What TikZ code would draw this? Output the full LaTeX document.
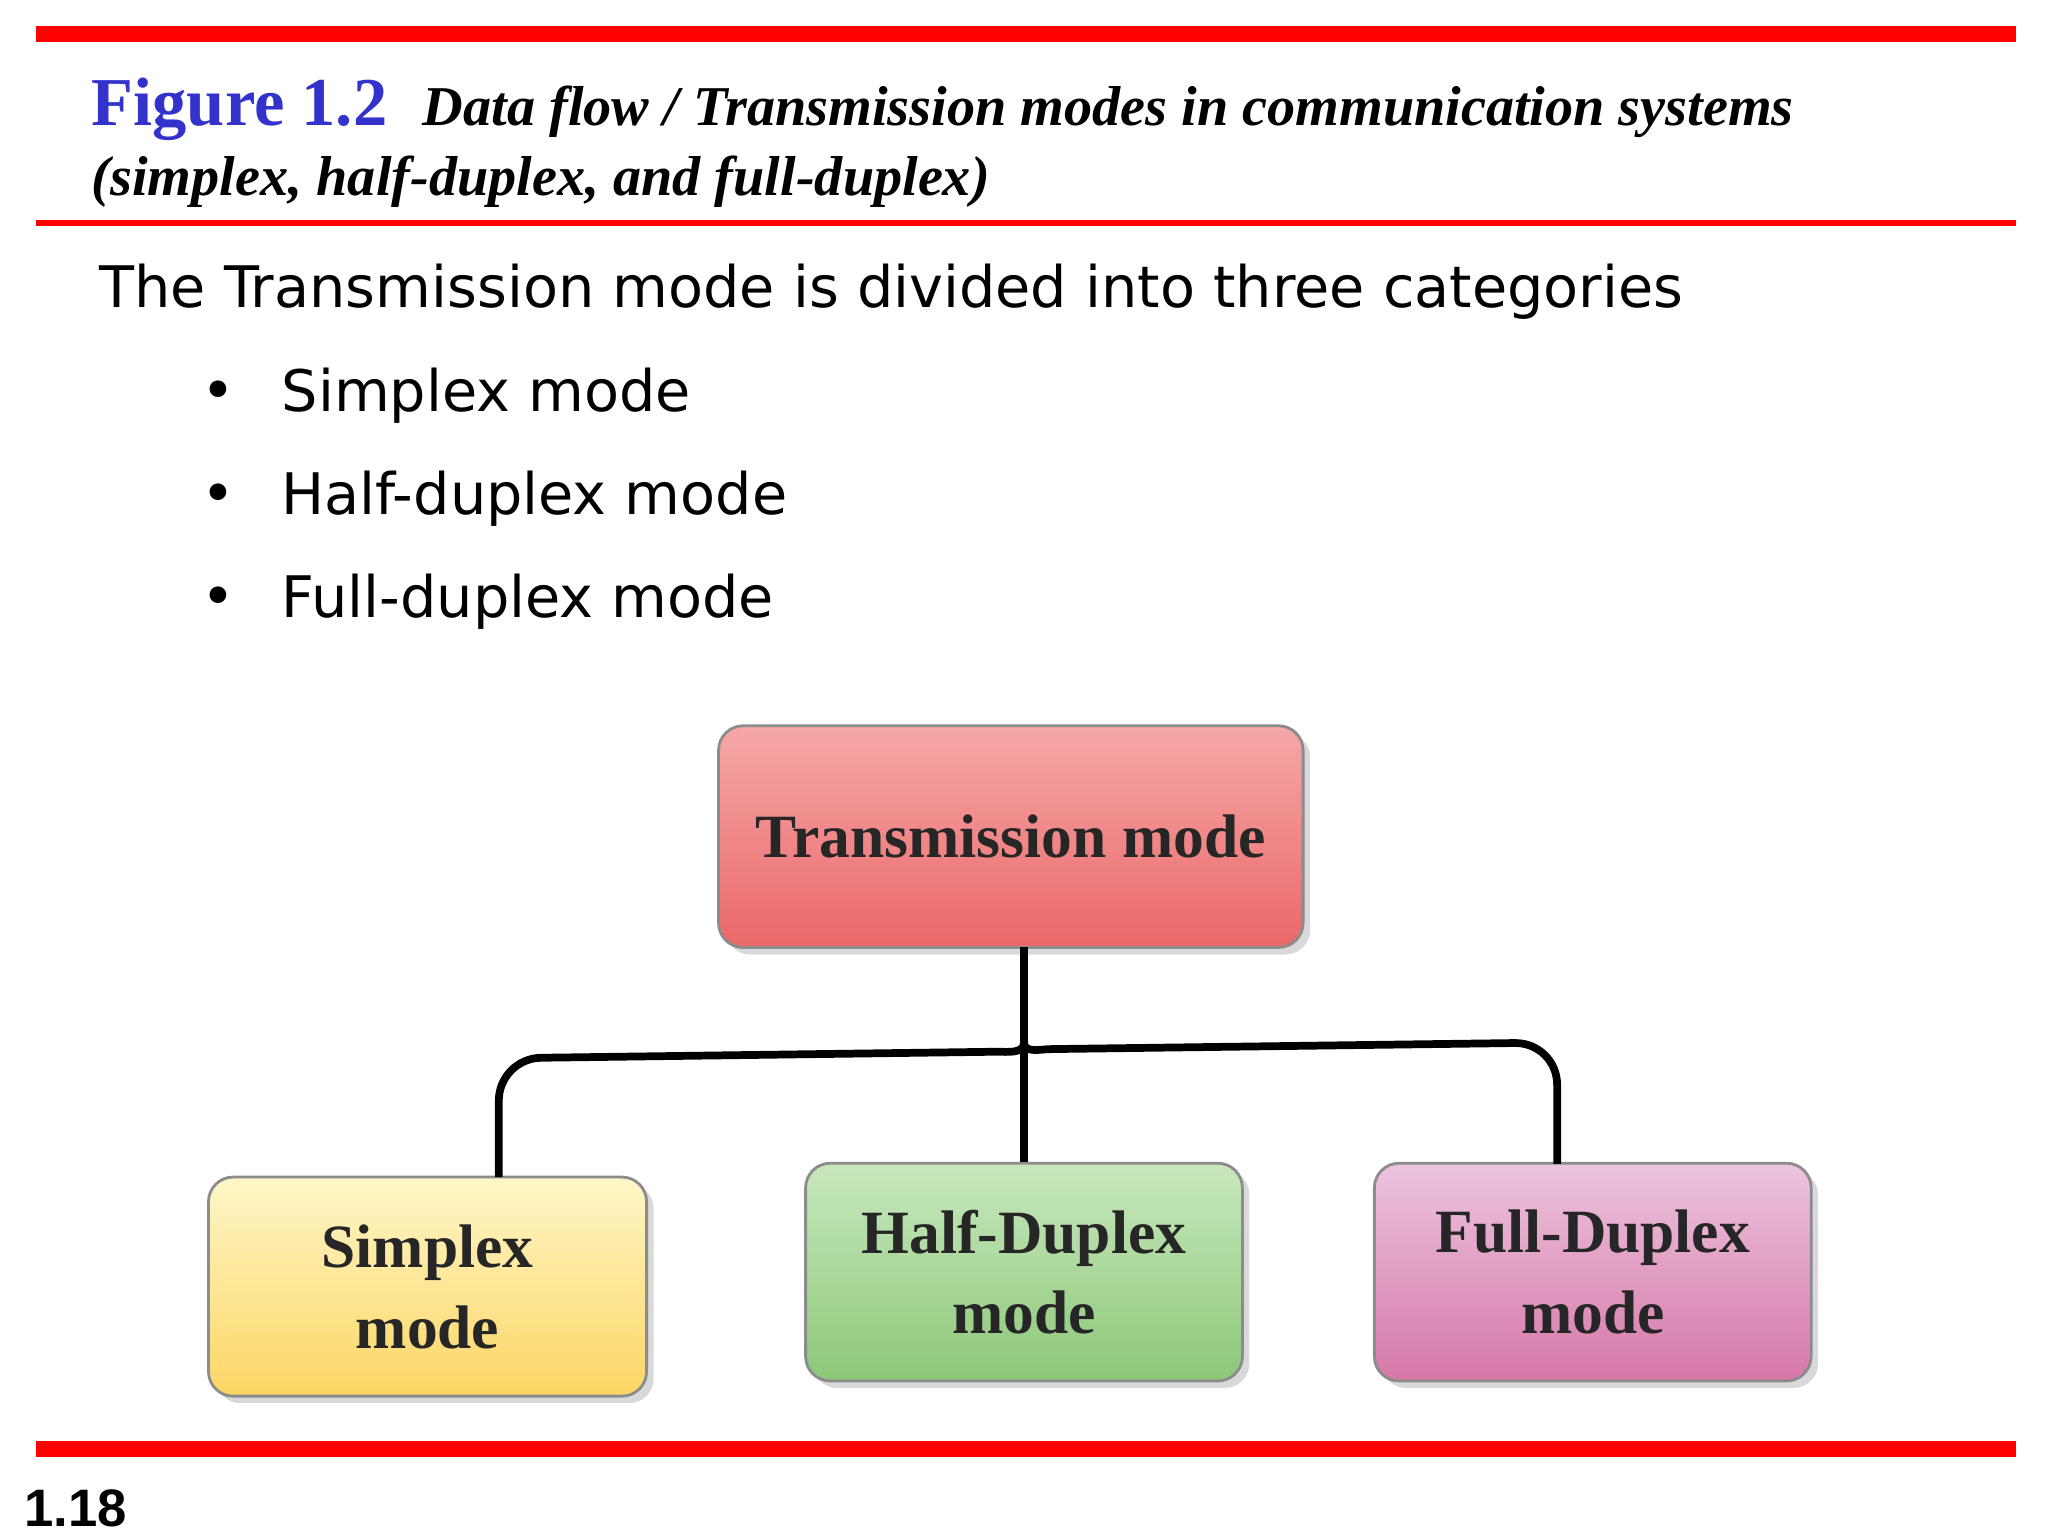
\documentclass[tikz,border=0pt]{standalone}
\usepackage{fontspec}
\setmainfont{Liberation Serif}
\newfontfamily\bodyf{DejaVu Sans}
\newfontfamily\numf{Liberation Sans}
\usetikzlibrary{shadows}
\definecolor{figblue}{RGB}{51,51,204}
\definecolor{barred}{RGB}{255,0,0}
\definecolor{pinkT}{RGB}{236,196,222}
\definecolor{pinkB}{RGB}{214,120,168}
\definecolor{redT}{RGB}{246,168,168}
\definecolor{redB}{RGB}{234,104,104}
\definecolor{yelT}{RGB}{255,246,200}
\definecolor{yelB}{RGB}{252,214,100}
\definecolor{grnT}{RGB}{200,232,190}
\definecolor{grnB}{RGB}{140,200,120}
\begin{document}
\begin{tikzpicture}[x=0.013196cm,y=-0.013196cm,
  box/.style={draw=black!45,line width=0.8pt,rounded corners=7pt,drop shadow={opacity=0.3,shadow xshift=2pt,shadow yshift=-2pt},align=center,font=\fontsize{17.5}{23}\selectfont\bfseries,text=black!85},
  bul/.style={anchor=west,font=\bodyf\fontsize{16.3}{19}\selectfont}]
\useasboundingbox (0,0) rectangle (1552,1164);
\fill[barred] (27,20) rectangle (1528,32);
\draw[barred,line width=1.5pt] (27,169) -- (1528,169);
\fill[barred] (27,1092) rectangle (1528,1104);
\node[anchor=base west,inner sep=0,text=figblue,font=\fontsize{19.5}{24}\selectfont\bfseries] (fig) at (69,95) {Figure 1.2};
\node[anchor=base west,inner sep=0,font=\fontsize{16}{20}\selectfont\bfseries\itshape] (t1) at (320,95) {Data flow / Transmission modes in communication systems};
\node[anchor=base west,inner sep=0,font=\fontsize{16}{20}\selectfont\bfseries\itshape] (t2) at (69,148) {(simplex, half-duplex, and full-duplex)};
\node[bul,inner sep=0] (intro) at (75,221) {The Transmission mode is divided into three categories};
\foreach \y/\t/\n in {300/Simplex mode/b1,378/Half-duplex mode/b2,456/Full-duplex mode/b3}{
  \node[bul,inner sep=0] (\n d) at (152,\y) {\textbullet};
  \node[bul,inner sep=0] (\n) at (213,\y) {\t};
}
\node[anchor=base west,inner sep=0,font=\numf\fontsize{15}{18}\selectfont\bfseries] (pg) at (18,1157) {1.18};
\node[box,top color=redT,bottom color=redB,minimum width=443*0.013196cm,minimum height=168*0.013196cm] (tm) at (766,634) {Transmission mode};
\node[box,top color=yelT,bottom color=yelB,minimum width=332*0.013196cm,minimum height=166*0.013196cm] (sm) at (324,975) {Simplex\\mode};
\node[box,top color=grnT,bottom color=grnB,minimum width=331*0.013196cm,minimum height=165*0.013196cm] (hd) at (776,964) {Half-Duplex\\mode};
\node[box,top color=pinkT,bottom color=pinkB,minimum width=331*0.013196cm,minimum height=165*0.013196cm] (fd) at (1207,964) {Full-Duplex\\mode};
\coordinate (j) at (776,790);
\draw[line width=2.2pt] (776,718) -- (j);
\draw[line width=2.2pt] (j) to[out=-90,in=0] (755,797) [rounded corners=12pt] -- (378,802) -- (378,892);
\draw[line width=2.2pt] (j) to[out=-90,in=180] (797,795) [rounded corners=12pt] -- (1180,790) -- (1180,882);
\draw[line width=2.2pt] (j) -- (hd.north);
\end{tikzpicture}
\end{document}
